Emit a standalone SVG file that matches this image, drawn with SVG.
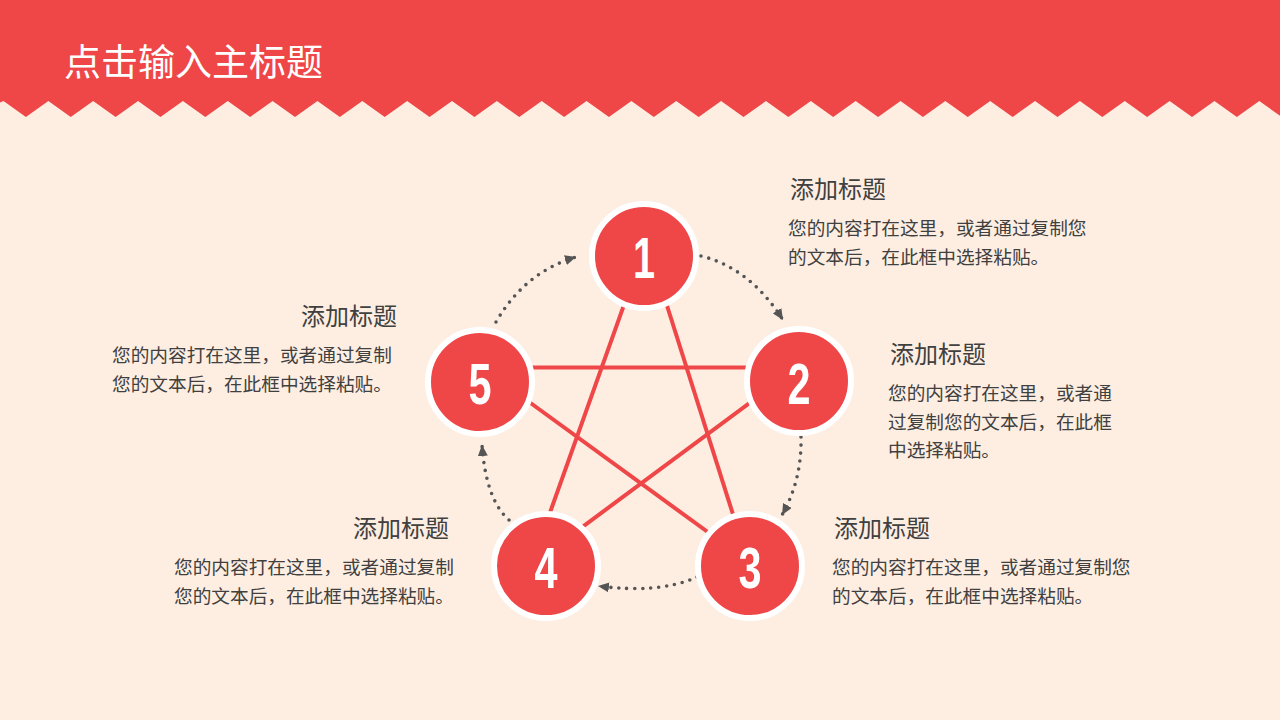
<svg xmlns="http://www.w3.org/2000/svg" width="1280" height="720" viewBox="0 0 1280 720">
<defs>
<style>
.cn{font-family:"Noto Sans CJK SC","Microsoft YaHei",sans-serif;fill:#404040}
.h{font-size:24px}
.b{font-size:18.67px}
.num{font-family:"Liberation Sans",Arial,sans-serif;font-weight:bold;font-size:57px;fill:#ffffff;text-anchor:middle}
.node circle{fill:#EF4648;stroke:#ffffff;stroke-width:6}
.star line{stroke:#EF4648;stroke-width:4}
.arc{fill:none;stroke:#555555;stroke-width:3.6;stroke-linecap:round;stroke-dasharray:0 8;marker-end:url(#ah)}
</style>
<marker id="ah" markerUnits="userSpaceOnUse" markerWidth="11" markerHeight="10" viewBox="0 0 11 10" refX="11" refY="5" orient="auto">
<path d="M0,0 L11,5 L0,10 Z" fill="#555555"/>
</marker>
</defs>
<rect x="0" y="0" width="1280" height="720" fill="#FEEEE2"/>
<g id="header">
<path fill="#EF4648" d="M0,0 V102.5 L3.5,101 l22.4,16 l22.45,-16 l22.4,16 l22.45,-16 l22.4,16 l22.45,-16 l22.4,16 l22.45,-16 l22.4,16 l22.45,-16 l22.4,16 l22.45,-16 l22.4,16 l22.45,-16 l22.4,16 l22.45,-16 l22.4,16 l22.45,-16 l22.4,16 l22.45,-16 l22.4,16 l22.45,-16 l22.4,16 l22.45,-16 l22.4,16 l22.45,-16 l22.4,16 l22.45,-16 l22.4,16 l22.45,-16 l22.4,16 l22.45,-16 l22.4,16 l22.45,-16 l22.4,16 l22.45,-16 l22.4,16 l22.45,-16 l22.4,16 l22.45,-16 l22.4,16 l22.45,-16 l22.4,16 l22.45,-16 l22.4,16 l22.45,-16 l22.4,16 l22.45,-16 l22.4,16 l22.45,-16 l22.4,16 l22.45,-16 l22.4,16 l22.45,-16 l22.4,16 l22.45,-16 l22.4,16 V0 Z"/>
<text x="64" y="76" font-family="'Noto Sans CJK SC',sans-serif" font-size="37" fill="#ffffff">点击输入主标题</text>
</g>
<g id="connectors">
<g class="star">
<line x1="630.6" y1="286.3" x2="543.4" y2="531.1"/>
<line x1="660.8" y1="286" x2="739.2" y2="534"/>
<line x1="764.6" y1="391.9" x2="568.7" y2="537.1"/>
<line x1="513.4" y1="390.5" x2="724.9" y2="544.5"/>
<line x1="515" y1="367.5" x2="765" y2="367.5"/>
</g>
<path class="arc" d="M701,256 Q750,268 783,320"/>
<path class="arc" d="M801,437 Q802,480 782,515"/>
<path class="arc" d="M697,577 Q660,594 598,586"/>
<path class="arc" d="M509,520 Q486,500 482,445"/>
<path class="arc" d="M496,322 Q525,272 576,257"/>
</g>
<g id="node1" class="node"><circle cx="644" cy="256" r="52"/><text class="num" x="644" y="278" textLength="22" lengthAdjust="spacingAndGlyphs">1</text></g>
<g id="node2" class="node"><circle cx="799" cy="381" r="52"/><text class="num" x="799" y="404" textLength="23" lengthAdjust="spacingAndGlyphs">2</text></g>
<g id="node3" class="node"><circle cx="750" cy="566" r="52"/><text class="num" x="750" y="588" textLength="23" lengthAdjust="spacingAndGlyphs">3</text></g>
<g id="node4" class="node"><circle cx="546" cy="566" r="52"/><text class="num" x="546" y="588" textLength="23" lengthAdjust="spacingAndGlyphs">4</text></g>
<g id="node5" class="node"><circle cx="480" cy="382" r="52"/><text class="num" x="480" y="404" textLength="23" lengthAdjust="spacingAndGlyphs">5</text></g>
<g id="text1" class="cn">
<text class="h" x="790" y="198">添加标题</text>
<text class="b" x="788" y="235">您的内容打在这里，或者通过复制您</text>
<text class="b" x="788" y="263.5">的文本后，在此框中选择粘贴。</text>
</g>
<g id="text2" class="cn">
<text class="h" x="890" y="363">添加标题</text>
<text class="b" x="888" y="400">您的内容打在这里，或者通</text>
<text class="b" x="888" y="428.7">过复制您的文本后，在此框</text>
<text class="b" x="888" y="457.3">中选择粘贴。</text>
</g>
<g id="text3" class="cn">
<text class="h" x="834" y="537">添加标题</text>
<text class="b" x="832" y="574">您的内容打在这里，或者通过复制您</text>
<text class="b" x="832" y="602.5">的文本后，在此框中选择粘贴。</text>
</g>
<g id="text4" class="cn">
<text class="h" x="449" y="537" text-anchor="end">添加标题</text>
<text class="b" x="174" y="574">您的内容打在这里，或者通过复制</text>
<text class="b" x="174" y="602.5">您的文本后，在此框中选择粘贴。</text>
</g>
<g id="text5" class="cn">
<text class="h" x="397" y="325" text-anchor="end">添加标题</text>
<text class="b" x="112" y="362">您的内容打在这里，或者通过复制</text>
<text class="b" x="112" y="390.5">您的文本后，在此框中选择粘贴。</text>
</g>
</svg>
